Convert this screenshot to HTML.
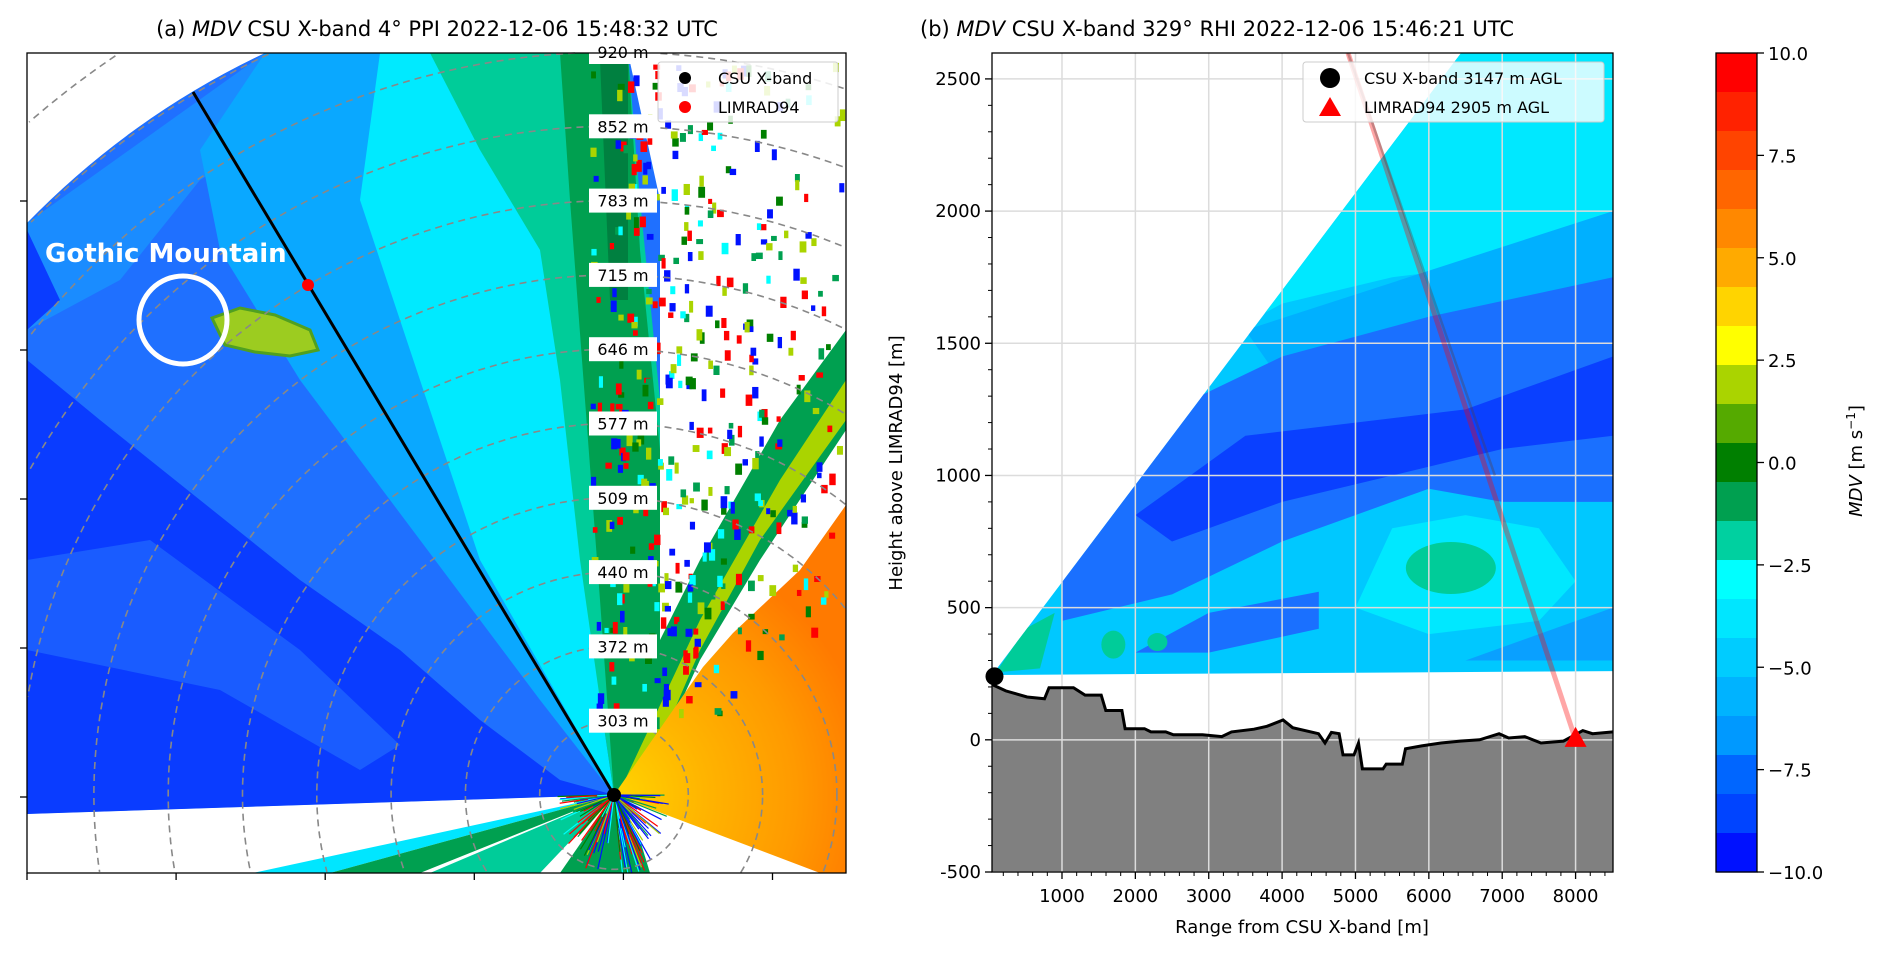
<!DOCTYPE html>
<html><head><meta charset="utf-8">
<style>
html,body{margin:0;padding:0;background:#fff;overflow:hidden;width:1892px;height:960px;position:relative;}
svg{display:block;position:absolute;left:0;top:0;overflow:hidden;font-family:"DejaVu Sans","Liberation Sans",sans-serif;}
</style></head>
<body>
<svg id="fig" width="1892" height="960" viewBox="0 0 1892 960" xmlns="http://www.w3.org/2000/svg">
<defs>
  <clipPath id="clipA"><rect x="27" y="53" width="819" height="820"/></clipPath>
  <clipPath id="clipSector"><path d="M614,795 L27,814 L27,223 A820,820 0 0 1 265,53 L628,53 L660,200 L660,795 Z"/></clipPath>
  <clipPath id="clipB"><rect x="992" y="53" width="621" height="819"/></clipPath>
  <radialGradient id="orangeGrad" cx="614" cy="795" r="260" gradientUnits="userSpaceOnUse">
    <stop offset="0" stop-color="#ffd400"/>
    <stop offset="0.35" stop-color="#ffb400"/>
    <stop offset="0.7" stop-color="#ff9a00"/>
    <stop offset="1" stop-color="#ff7a00"/>
  </radialGradient>
</defs>

<!-- ================= PANEL A ================= -->
<text x="437" y="36" font-size="21" text-anchor="middle">(a) <tspan font-style="italic">MDV</tspan> CSU X-band 4° PPI 2022-12-06 15:48:32 UTC</text>

<g id="ppi" clip-path="url(#clipA)">
  <g clip-path="url(#clipSector)">
    <rect x="27" y="53" width="819" height="820" fill="#1f70ff"/>
    <polygon fill="#1a8cff" points="27,223 27,330 120,280 200,180 300,120 330,53 265,53"/>
    <polygon fill="#0a3cff" points="27,360 100,420 200,500 300,580 400,650 480,720 560,780 614,795 27,814"/>
    <polygon fill="#1a5cff" points="27,560 150,540 300,650 400,745 360,770 220,690 27,650"/>
    <polygon fill="#0a3cff" points="27,230 60,300 27,330"/>
    <polygon fill="#0aa8ff" points="265,53 390,53 450,300 520,520 600,760 614,795 540,700 420,540 300,380 220,250 200,150"/>
    <polygon fill="#00eaff" points="380,53 560,53 560,300 580,500 600,700 614,795 560,700 480,560 420,380 360,200"/>
    <polygon fill="#00cc99" points="430,53 628,53 640,200 660,400 660,795 614,795 600,700 580,560 560,380 540,250 480,150"/>
    <polygon fill="#00a050" points="560,53 628,53 640,250 660,450 660,795 614,795 600,600 585,400 570,200"/>
    <polygon fill="#008040" points="600,60 628,60 628,300 610,300"/>
    <polygon fill="#9ccc20" stroke="#50a020" stroke-width="3" points="212,318 240,308 275,315 310,330 318,350 290,356 255,352 225,345"/>
  </g>
  <polygon fill="#00a050" points="614,795 660,640 700,560 780,420 846,330 846,430 760,560 700,660 650,770"/>
  <polygon fill="#aad400" points="625,780 700,620 780,480 846,380 846,420 760,540 700,650 640,790"/>
  <polygon fill="url(#orangeGrad)" points="614,795 657,733 703,667 733,633 800,570 846,505 846,873 820,873"/>
  <polygon fill="#00e6ff" points="614,795 253,873 330,873"/>
  <polygon fill="#00a050" points="614,795 330,873 420,873"/>
  <polygon fill="#00cc99" points="614,795 430,873 540,873"/>
  <polygon fill="#00a050" points="614,795 560,873 650,873 640,840"/>
  <g id="speckles"></g>
</g>
<g id="ringsA"></g>
<line x1="614" y1="795" x2="193" y2="92" stroke="#000" stroke-width="3"/>
<circle cx="308" cy="285" r="6" fill="#f00"/>
<circle cx="614" cy="795" r="7" fill="#000"/>
<circle cx="183" cy="320" r="44" fill="none" stroke="#fff" stroke-width="5"/>
<text x="45" y="262" font-size="26" font-weight="bold" fill="#fff">Gothic Mountain</text>
<g id="ringLabels"></g>
<rect x="27" y="53" width="819" height="820" fill="none" stroke="#000" stroke-width="1.3"/>
<g id="ticksA"></g>
<g>
  <rect x="658" y="62" width="180" height="60" rx="3" fill="#fff" fill-opacity="0.85" stroke="#ccc"/>
  <circle cx="685" cy="78" r="6" fill="#000"/>
  <text x="718" y="84" font-size="16">CSU X-band</text>
  <circle cx="685" cy="107" r="6" fill="#f00"/>
  <text x="718" y="113" font-size="16">LIMRAD94</text>
</g>

<!-- ================= PANEL B ================= -->
<text x="920" y="36" font-size="21">(b) <tspan font-style="italic">MDV</tspan> CSU X-band 329° RHI 2022-12-06 15:46:21 UTC</text>
<g id="rhi" clip-path="url(#clipB)"></g>
<g id="gridB"></g>
<g id="overB"></g>
<rect x="992" y="53" width="621" height="819" fill="none" stroke="#000" stroke-width="1.3"/>
<g id="ticksB"></g>
<text transform="translate(902,463) rotate(-90)" font-size="18" text-anchor="middle">Height above LIMRAD94 [m]</text>
<text x="1302" y="933" font-size="18" text-anchor="middle">Range from CSU X-band [m]</text>
<g>
  <rect x="1303" y="62" width="301" height="60" rx="3" fill="#fff" fill-opacity="0.8" stroke="#ccc"/>
  <circle cx="1330" cy="78" r="10" fill="#000"/>
  <text x="1364" y="84" font-size="16">CSU X-band 3147 m AGL</text>
  <polygon points="1330,97 1341,116 1319,116" fill="#f00"/>
  <text x="1364" y="113" font-size="16">LIMRAD94 2905 m AGL</text>
</g>

<!-- ================= COLORBAR ================= -->
<g id="cbar"></g>
<text transform="translate(1862,461) rotate(-90)" font-size="18" text-anchor="middle"><tspan font-style="italic">MDV</tspan> [m s<tspan dy="-7" font-size="12">−1</tspan><tspan dy="7">]</tspan></text>
</svg>

<script>
// ---------- data ----------
const ringHeights = [303, 372, 440, 509, 577, 646, 715, 783, 852, 920];
const ppiTickX = [0, 1, 2, 3, 4, 5];
const ppiTickY = [0, 1, 2, 3, 4];
const rhiXTicks = [1000, 2000, 3000, 4000, 5000, 6000, 7000, 8000];
const rhiYTicks = [-500, 0, 500, 1000, 1500, 2000, 2500];
const terrainRange = [50,234,525,762,823,1157,1315,1535,1597,1816,1860,2124,2212,2414,2519,2915,3178,3310,3617,3793,4013,4145,4496,4584,4672,4777,4830,4980,5041,5094,5375,5419,5638,5682,5902,6166,6429,6693,6957,7088,7308,7528,7836,8099,8231,8512];
const terrainHeight = [209,185,162,155,197,197,169,169,111,111,42,42,30,30,19,19,12,30,40,51,75,46,23,-12,28,23,-57,-57,-12,-110,-110,-92,-92,-34,-23,-12,-5,0,23,7,12,-12,-5,35,23,30];
const cbarColors = ["#ff0000","#ff2200","#ff4400","#ff6600","#ff8800","#ffaa00","#ffd400","#ffff00","#aad400","#55aa00","#007f00","#00a050","#00d0a0","#00ffff","#00e6ff","#00ccff","#00b3ff","#0099ff","#0066ff","#0044ff","#0011ff"];
const cbarTicks = [10.0, 7.5, 5.0, 2.5, 0.0, -2.5, -5.0, -7.5, -10.0];
const radarRange = 80, radarHeight = 240;
const limradRange = 8000, limradHeight = 0;

const NS = "http://www.w3.org/2000/svg";
function mk(tag, attrs, parent){const e=document.createElementNS(NS,tag);for(const k in attrs)e.setAttribute(k,attrs[k]);if(parent)parent.appendChild(e);return e;}

// ---------- Panel A ----------
const RX=614, RY=795, ringPx=74.3;
const aL=27,aR=846,aT=53,aB=873;
const ringsA=document.getElementById('ringsA');
for(let n=1;n<=12;n++){
  const r=n*ringPx;
  let segs=[], cur=[];
  for(let k=0;k<=720;k++){
    const a=k/720*2*Math.PI;
    const x=RX+r*Math.cos(a), y=RY-r*Math.sin(a);
    if(x>=aL&&x<=aR&&y>=aT&&y<=aB){cur.push(x.toFixed(1)+','+y.toFixed(1));}
    else if(cur.length){segs.push(cur);cur=[];}
  }
  if(cur.length)segs.push(cur);
  segs.forEach(s=>{
    if(s.length<2)return;
    const c=mk('polyline',{points:s.join(' '),fill:'none',stroke:'#888','stroke-width':1.6,'stroke-dasharray':'7,5'},ringsA);
    
    
  });
}
const rl=document.getElementById('ringLabels');
ringHeights.forEach((h,i)=>{
  const y=RY-(i+1)*ringPx;
  const g=mk('g',{},rl);
  
  
  mk('rect',{x:589,y:y-12,width:68,height:24,fill:'#fff'},g);
  const t=mk('text',{x:623,y:y+6,'font-size':16,'text-anchor':'middle'},g);
  t.textContent=h+' m';
});
const ta=document.getElementById('ticksA');
ppiTickX.forEach(i=>{const x=27+i*149.1;const l=mk('line',{x1:x,y1:873,x2:x,y2:880,stroke:'#000','stroke-width':1.3},ta);});
ppiTickY.forEach(i=>{const y=797-i*149;const l=mk('line',{x1:20,y1:y,x2:27,y2:y,stroke:'#000','stroke-width':1.3},ta);});

// speckles (texture)
const sp=document.getElementById('speckles');
let seed=12345;function rnd(){seed=(seed*1103515245+12345)%2147483648;return seed/2147483648;}
const spCols=['#ff0000','#0011ff','#ff0000','#0011ff','#00a050','#007f00','#00ffff','#aad400'];
for(let i=0;i<700;i++){
  const x=590+rnd()*250, y=60+rnd()*660;
  const dx=x-RX, dy=RY-y;
  if(dy<0) continue;
  const ang=Math.atan2(dx,dy);
  if(ang>0.9 && y>430) continue;
  const dens = x<680 ? 1 : (1-(x-680)/220);
  if(rnd()>dens*0.85) continue;
  mk('rect',{x:x,y:y,width:4+rnd()*3,height:5+rnd()*7,fill:spCols[Math.floor(rnd()*spCols.length)]},sp);
}
for(let i=0;i<160;i++){
  const a=Math.PI*(0.05+rnd()*0.5)+Math.PI/2, r=20+rnd()*70;
  mk('line',{x1:RX,y1:RY,x2:RX+Math.cos(a)*r*0.9*(rnd()<0.5?-1:1)*0.7,y2:RY+Math.abs(Math.sin(a))*r,stroke:spCols[Math.floor(rnd()*spCols.length)],'stroke-width':1.2},sp);
}

// ---------- Panel B ----------
const bL=992,bR=1613,bT=53,bB=872;
const xMin=46,xMax=8510,yMin=-500,yMax=2598;
function X(m){return bL+(m-xMin)/(xMax-xMin)*(bR-bL);}
function Y(h){return bB-(h-yMin)/(yMax-yMin)*(bB-bT);}
function pts(arr){return arr.map(p=>X(p[0]).toFixed(1)+','+Y(p[1]).toFixed(1)).join(' ');}

const rhi=document.getElementById('rhi');
const defs=document.querySelector('defs');
const cp=mk('clipPath',{id:'clipWedge'},defs);
mk('polygon',{points:pts([[xMin,245],[6440,yMax],[xMax,yMax],[xMax,260],[xMin,245]])},cp);
const wg=mk('g',{'clip-path':'url(#clipWedge)'},rhi);
mk('rect',{x:bL,y:bT,width:bR-bL,height:bB-bT,fill:'#00c8ff'},wg);
mk('polygon',{fill:'#00e8ff',points:pts([[3000,1500],[4500,2598],[8510,2598],[8510,1900],[7000,1800],[5500,1750],[4000,1650]])},wg);
mk('polygon',{fill:'#00b0ff',points:pts([[3500,1550],[8510,2000],[8510,1700],[6000,1550],[4000,1350]])},wg);
mk('polygon',{fill:'#1a70ff',points:pts([[1000,800],[2500,1250],[4000,1450],[6000,1600],[8510,1750],[8510,900],[7000,900],[6000,950],[4000,750],[2500,550],[1000,450]])},wg);
mk('polygon',{fill:'#0a40ff',points:pts([[2000,850],[3500,1150],[5000,1200],[6500,1250],[8510,1450],[8510,1150],[7000,1100],[5500,1000],[4000,900],[2500,750]])},wg);
mk('polygon',{fill:'#00e8ff',points:pts([[5000,500],[5500,800],[6500,850],[7500,800],[8000,600],[7500,450],[6000,400]])},wg);
mk('polygon',{fill:'#1a70ff',points:pts([[2000,330],[3000,480],[4500,560],[4500,420],[3000,330]])},wg);
mk('polygon',{fill:'#0aa0ff',points:pts([[6500,300],[8510,500],[8510,300]])},wg);
mk('ellipse',{fill:'#00cc99',cx:X(6300),cy:Y(650),rx:45,ry:26},wg);
mk('ellipse',{fill:'#00cc99',cx:X(1700),cy:Y(360),rx:12,ry:14},wg);
mk('ellipse',{fill:'#00cc99',cx:X(2300),cy:Y(370),rx:10,ry:9},wg);
mk('polygon',{fill:'#00cc99',points:pts([[100,255],[700,270],[900,480],[500,420]])},wg);

// terrain
const tpts=terrainRange.map((r,i)=>[r,terrainHeight[i]]);
const terr=mk('polygon',{fill:'#808080',points:pts([[xMin,yMin]].concat(tpts).concat([[xMax,terrainHeight[terrainHeight.length-1]],[xMax,yMin]]))},rhi);



// grid
const gb=document.getElementById('gridB');
rhiXTicks.forEach(v=>{const l=mk('line',{x1:X(v),y1:bT,x2:X(v),y2:bB,stroke:'#dcdcdc','stroke-width':1.5},gb);});
rhiYTicks.forEach(v=>{const l=mk('line',{x1:bL,y1:Y(v),x2:bR,y2:Y(v),stroke:'#dcdcdc','stroke-width':1.5},gb);});

const ob=document.getElementById('overB');
const tl=mk('polyline',{points:pts(tpts),fill:'none',stroke:'#000','stroke-width':3},ob);


const bx1=X(limradRange), by1=Y(limradHeight);
const bm=mk('line',{x1:1348,y1:bT,x2:bx1,y2:by1,stroke:'rgba(255,0,0,0.35)','stroke-width':5},ob);


const bm2=mk('line',{x1:1348,y1:bT,x2:X(6900),y2:Y(1000),stroke:'rgba(90,60,60,0.35)','stroke-width':2.5},ob);


const rd=mk('circle',{cx:X(radarRange),cy:Y(radarHeight),r:9,fill:'#000'},ob);


const tri=mk('polygon',{points:`${bx1},${by1-13} ${bx1+11},${by1+7} ${bx1-11},${by1+7}`,fill:'#f00'},ob);



// ticks B
const tb=document.getElementById('ticksB');
rhiXTicks.forEach(v=>{
  const l=mk('line',{x1:X(v),y1:bB,x2:X(v),y2:bB+7,stroke:'#000','stroke-width':1.3},tb);
  
  
  const t=mk('text',{x:X(v),y:bB+30,'font-size':18,'text-anchor':'middle'},tb);t.textContent=v;
  
  
});
for(let v=200;v<=8400;v+=200){ if(v%1000===0)continue; mk('line',{x1:X(v),y1:bB,x2:X(v),y2:bB+4,stroke:'#000','stroke-width':1},tb);}
rhiYTicks.forEach(v=>{
  const l=mk('line',{x1:bL-7,y1:Y(v),x2:bL,y2:Y(v),stroke:'#000','stroke-width':1.3},tb);
  
  
  const t=mk('text',{x:bL-11,y:Y(v)+6,'font-size':18,'text-anchor':'end'},tb);t.textContent=v;
  
  
});
for(let v=-400;v<=2500;v+=100){ if(v%500===0)continue; mk('line',{x1:bL-4,y1:Y(v),x2:bL,y2:Y(v),stroke:'#000','stroke-width':1},tb);}

// ---------- Colorbar ----------
const cb=document.getElementById('cbar');
const cL=1716,cR=1757,cT=53,cB=872,vMin=-10,vMax=10;
function CY(v){return cB-(v-vMin)/(vMax-vMin)*(cB-cT);}
const bandH=(cB-cT)/cbarColors.length;
cbarColors.forEach((c,i)=>{
  const r=mk('rect',{x:cL,y:cT+i*bandH,width:cR-cL,height:bandH+0.6,fill:c},cb);
  
  
});
mk('rect',{x:cL,y:cT,width:cR-cL,height:cB-cT,fill:'none',stroke:'#000','stroke-width':1.3},cb);
cbarTicks.forEach(v=>{
  mk('line',{x1:cR,y1:CY(v),x2:cR+7,y2:CY(v),stroke:'#000','stroke-width':1.3},cb);
  const t=mk('text',{x:cR+11,y:CY(v)+7,'font-size':18},cb);
  t.textContent=(v<0?'−':'')+Math.abs(v).toFixed(1);
  
  
});
</script>
</body></html>
